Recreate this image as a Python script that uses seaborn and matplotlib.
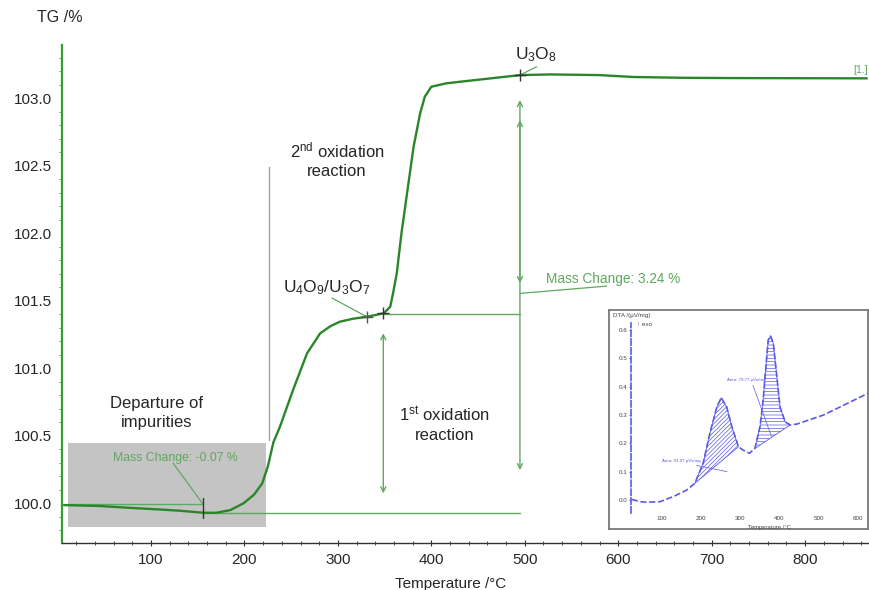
import pandas as pd
import seaborn as sns
from matplotlib import pyplot as plt
from matplotlib.ticker import MultipleLocator, FormatStrFormatter

sns.set_style('white')
plt.rcParams['font.family'] = ['Liberation Sans', 'DejaVu Sans']
plt.rcParams['mathtext.default'] = 'regular'
plt.rcParams['hatch.linewidth'] = 0.5

# TG curve
temp = [7, 45, 81, 110, 131, 156, 170, 185, 199, 210, 219, 225, 231, 238,
        252, 267, 281, 292, 302, 316, 331, 349, 356, 359, 363, 368, 374,
        381, 388, 393, 400, 416, 431, 495, 527, 580, 616, 670, 723, 800, 866]
tg = [99.985, 99.978, 99.963, 99.952, 99.943, 99.928, 99.928, 99.948,
      99.998, 100.06, 100.145, 100.27, 100.45, 100.565, 100.837, 101.109,
      101.257, 101.31, 101.343, 101.365, 101.380, 101.405, 101.454, 101.553,
      101.701, 101.997, 102.294, 102.639, 102.886, 103.010, 103.084, 103.109,
      103.121, 103.170, 103.175, 103.170, 103.156, 103.150, 103.148, 103.147,
      103.146]

# step markers
step_t = [155.6, 348.6, 494.8]
step_tg = [99.928, 101.405, 103.170]
u4o9_t = 330.8
u4o9_tg = 101.380

# DTA inset curve
dta_temp = [23, 44, 61, 95, 129, 163, 184, 205, 222, 240, 251, 265, 278,
            295, 307, 323, 337, 350, 358, 365, 371, 377, 384, 393, 401, 414,
            427, 444, 512, 626]
dta_val = [0.002, -0.006, -0.008, -0.006, 0.012, 0.035, 0.059, 0.13, 0.235,
           0.329, 0.361, 0.329, 0.259, 0.188, 0.176, 0.165, 0.182, 0.259,
           0.353, 0.471, 0.565, 0.579, 0.553, 0.435, 0.329, 0.276, 0.265,
           0.268, 0.30, 0.377]

GREEN = '#2b862b'
LGREEN = '#5fa85f'
BLUE = '#5a5ae6'

fig = plt.figure(figsize=(8.69, 5.90), dpi=100)
ax = fig.add_axes([62 / 869, 47 / 590, 807 / 869, 498 / 590])

df = pd.DataFrame({'Temperature': temp, 'TG': tg})
sns.lineplot(x='Temperature', y='TG', data=df, ax=ax, color=GREEN, lw=1.7,
             zorder=4, solid_joinstyle='round')

ax.set_xlim(4.8, 868.3)
ax.set_ylim(99.704, 103.393)
ax.xaxis.set_major_locator(MultipleLocator(100))
ax.xaxis.set_minor_locator(MultipleLocator(20))
ax.yaxis.set_major_locator(MultipleLocator(0.5))
ax.yaxis.set_minor_locator(MultipleLocator(0.1))
ax.yaxis.set_major_formatter(FormatStrFormatter('%.1f'))
ax.set_xlabel('')
ax.set_ylabel('')
for s in ['top', 'right']:
    ax.spines[s].set_visible(False)
ax.spines['left'].set_color('#33a033')
ax.spines['left'].set_linewidth(1.6)
ax.spines['bottom'].set_color('#333333')
ax.spines['bottom'].set_linewidth(1.0)
ax.tick_params(axis='y', which='major', direction='out', length=4,
               color='#33a033', labelsize=11, pad=3)
ax.tick_params(axis='y', which='minor', direction='out', length=2.5,
               color='#33a033', left=True)
ax.tick_params(axis='x', which='major', direction='inout', length=5,
               color='#333333', labelsize=11, pad=5, bottom=True)
ax.tick_params(axis='x', which='minor', direction='inout', length=3,
               color='#333333', bottom=True)

# shaded impurity zone
ax.axvspan(11.2, 223.1, ymin=(99.822 - 99.704) / 3.689,
           ymax=(100.444 - 99.704) / 3.689, color='#c4c4c4', lw=0, zorder=1)
ax.plot([226.6, 226.6], [100.467, 102.489], color='#a0a0a0', lw=1, zorder=2)

# construction lines
ax.plot([11.2, 155.6], [99.993, 99.993], color=LGREEN, lw=1, zorder=3)
ax.plot([155.6, 494.8], [99.926, 99.926], color=LGREEN, lw=1, zorder=3)
ax.plot([348.6, 494.8], [101.404, 101.404], color=LGREEN, lw=1, zorder=3)
ax.plot([155.6, 155.6], [100.04, 99.89], color='#333333', lw=1, zorder=5)
ax.plot(step_t[1:], step_tg[1:], ls='none', marker='+', ms=8, mew=1,
        color='#333333', zorder=5)
ax.plot([u4o9_t], [u4o9_tg], ls='none', marker='+', ms=8, mew=1,
        color='#555555', zorder=5)

arrow = dict(arrowstyle='<->', color=LGREEN, lw=1, mutation_scale=9,
             shrinkA=0, shrinkB=0)
ax.annotate('', xy=(494.8, 102.985), xytext=(494.8, 100.244),
            arrowprops=arrow)
ax.annotate('', xy=(494.8, 102.837), xytext=(494.8, 101.630),
            arrowprops=arrow)
ax.annotate('', xy=(348.6, 101.257), xytext=(348.6, 100.072),
            arrowprops=arrow)

# labels
ax.text(106.4, 100.667, 'Departure of\nimpurities', ha='center', va='center',
        fontsize=12, linespacing=1.3)
ax.text(59.4, 100.333, 'Mass Change: -0.07 %', ha='left', va='center',
        fontsize=8.8, color=LGREEN)
ax.plot([123.6, 155.6], [100.296, 99.993], color=LGREEN, lw=0.9)
ax.text(299.0, 102.541, '2$^{nd}$ oxidation\nreaction', ha='center',
        va='center', fontsize=12, linespacing=1.3)
ax.text(288.3, 101.593, 'U$_4$O$_9$/U$_3$O$_7$', ha='center', va='center',
        fontsize=12.5)
ax.plot([293.6, 330.8], [101.519, 101.380], color=LGREEN, lw=0.9)
ax.text(414.6, 100.585, '1$^{st}$ oxidation\nreaction', ha='center',
        va='center', fontsize=12, linespacing=1.3)
ax.text(512.0, 103.319, 'U$_3$O$_8$', ha='center', va='center', fontsize=12.5)
ax.plot([512.7, 494.8], [103.232, 103.170], color=LGREEN, lw=0.9)
ax.text(522.7, 101.659, 'Mass Change: 3.24 %', ha='left', va='center',
        fontsize=9.8, color=LGREEN)
ax.plot([494.8, 587.6], [101.553, 101.607], color=LGREEN, lw=0.9)
ax.text(867.5, 103.207, '[1.]', ha='right', va='center', fontsize=7.5,
        color=LGREEN, clip_on=False)

fig.text(60 / 869, 1 - 18 / 590, 'TG /%', ha='center', va='center',
         fontsize=11.5)
fig.text(451 / 869, 1 - 584 / 590, 'Temperature /°C', ha='center',
         va='center', fontsize=11)

# DTA inset
frame = fig.add_axes([609 / 869, 61 / 590, 259 / 869, 219 / 590])
frame.set_xticks([])
frame.set_yticks([])
for s in frame.spines.values():
    s.set_color('#7a7a7a')
    s.set_linewidth(1.3)
frame.text(0.015, 0.985, 'DTA /(µV/mg)', transform=frame.transAxes,
           ha='left', va='top', fontsize=4.5, color='#444444')

ins = fig.add_axes([631 / 869, 77 / 590, 237 / 869, 190 / 590])
ins.patch.set_alpha(0)
dfi = pd.DataFrame({'Temperature': dta_temp, 'DTA': dta_val})
sns.lineplot(x='Temperature', y='DTA', data=dfi, ax=ins, color=BLUE,
             lw=1.2, ls='--')
ins.fill(dta_temp[6:14], dta_val[6:14], facecolor='none', edgecolor=BLUE,
         hatch='////////', lw=0.6)
ins.fill(dta_temp[16:27], dta_val[16:27], facecolor='none', edgecolor=BLUE,
         hatch='-----', lw=0.6)
ins.set_xlim(20.9, 625.5)
ins.set_ylim(-0.046, 0.625)
ins.set_xticks([100, 200, 300, 400, 500, 600])
ins.set_yticks([0.0, 0.1, 0.2, 0.3, 0.4, 0.5, 0.6])
ins.yaxis.set_major_formatter(FormatStrFormatter('%.1f'))
ins.set_xlabel('')
ins.set_ylabel('')
for s in ['top', 'right', 'bottom']:
    ins.spines[s].set_visible(False)
ins.spines['left'].set_color(BLUE)
ins.spines['left'].set_linestyle('--')
ins.spines['left'].set_linewidth(1.2)
ins.tick_params(axis='both', labelsize=4.5, length=1.5, pad=1,
                colors='#444444', left=True, bottom=False)
ins.tick_params(axis='x', pad=0.3)
ins.tick_params(axis='y', color=BLUE)
ins.text(36, 0.62, '↑ exo', ha='left', va='center', fontsize=4.5,
         color='#444444')
ins.text(320, -0.097, 'Temperature /°C', ha='left', va='center',
         fontsize=4.2, color='#444444', clip_on=False)
ins.text(150, 0.138, 'Area: 91.07 µVs/mg', ha='center', va='center',
         fontsize=3.2, color=BLUE)
ins.plot([188, 266], [0.122, 0.1], color=BLUE, lw=0.5)
ins.text(314, 0.423, 'Area: 79.77 µVs/mg', ha='center', va='center',
         fontsize=3.2, color=BLUE)
ins.plot([332, 379], [0.405, 0.225], color=BLUE, lw=0.5)

plt.savefig('out.png', dpi=100)
plt.close()
